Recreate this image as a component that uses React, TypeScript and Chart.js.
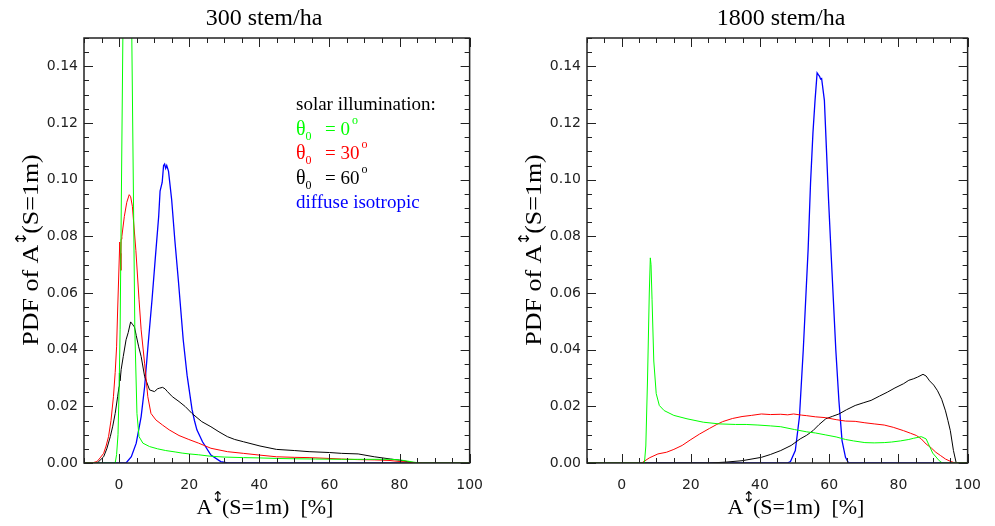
import React, { useEffect, useRef } from 'react';
import { Chart, registerables } from 'chart.js';

Chart.register(...registerables);

// ---------- axes ----------
const X_MIN = -10;
const X_MAX = 100;
const Y_MIN = 0;
const Y_MAX = 0.15;
const xTickValues = [0, 20, 40, 60, 80, 100];
const yTickValues = [0, 0.02, 0.04, 0.06, 0.08, 0.1, 0.12, 0.14];
const X_MINOR = 5;
const Y_MINOR = 0.005;

// ---------- texts ----------
const panelTitles = ['300 stem/ha', '1800 stem/ha'];
const yTitleParts = ['PDF of A', '\u2195', '(S=1m)'];
const xTitleParts = ['A', '\u2195', '(S=1m)  [%]'];
const legendHeading = 'solar illumination:';
const legendTheta = '\u03B8';
const legendSub = '0';
const legendAngles = ['0', '30', '60'];
const legendDiffuse = 'diffuse isotropic';
const seriesColors = ['#00ff00', '#ff0000', '#000000', '#0000ff'];

// ---------- 300 stem/ha ----------
const lowGreenX = [-10, -1.1, -0.7, -0.3, 0, 0.3, 2.3, 4.5, 5.1, 5.7, 6.8, 8.7, 11, 13.3, 16, 18, 20, 22.7, 26, 30, 35.5, 40, 45, 50, 56, 63.5, 70, 77.5, 80, 82.2, 84, 86, 100];
const lowGreenY = [0, 0, 0.003, 0.01, 0.025, 0.047, 0.31, 0.047, 0.0175, 0.0093, 0.007, 0.0058, 0.005, 0.0044, 0.0039, 0.0035, 0.0032, 0.0029, 0.0024, 0.0021, 0.0019, 0.0018, 0.0016, 0.0015, 0.0014, 0.0013, 0.0013, 0.0013, 0.0011, 0.0007, 0.0003, 0, 0];

const lowRedX = [-10, -7.5, -6.3, -5.4, -4.4, -3.7, -3.0, -2.3, -1.6, -1.1, -0.7, -0.4, -0.1, 0.2, 0.35, 0.5, 0.6, 0.8, 1.5, 2.2, 2.9, 3.3, 3.8, 4.8, 5.7, 6.3, 7.3, 8.2, 9.1, 10.5, 12.4, 14.3, 17.1, 19.9, 22.7, 26.2, 30.9, 35.5, 40, 44.9, 50, 54.2, 60, 63.5, 68, 72.8, 77, 80.3, 84, 87, 100];
const lowRedY = [0, 0.0001, 0.0005, 0.0018, 0.0034, 0.006, 0.0093, 0.015, 0.0234, 0.032, 0.041, 0.054, 0.066, 0.078, 0.074, 0.068, 0.079, 0.08, 0.087, 0.092, 0.0947, 0.094, 0.0906, 0.075, 0.0576, 0.047, 0.035, 0.0234, 0.0175, 0.0152, 0.0134, 0.0117, 0.0097, 0.0083, 0.007, 0.0052, 0.004, 0.0034, 0.0028, 0.0022, 0.002, 0.0019, 0.0016, 0.0014, 0.0012, 0.0011, 0.0009, 0.0005, 0.0002, 0, 0];

const lowBlackX = [-10, -6.5, -5.8, -4.4, -3.5, -2.5, -1.8, -1.1, -0.4, 0, 0.1, 0.3, 0.6, 1.2, 2.0, 2.6, 3.3, 3.8, 4.4, 4.9, 5.6, 6.3, 7.3, 8.7, 10.1, 11.0, 11.5, 12.4, 13.1, 13.8, 15.2, 17.1, 18.9, 20.8, 23.6, 26.2, 28.5, 30.9, 33, 35.5, 40.2, 44.9, 50, 54.2, 60, 63.5, 68.2, 72.8, 77.5, 80, 82.2, 84, 100];
const lowBlackY = [0, 0, 0.0005, 0.0022, 0.005, 0.0093, 0.013, 0.0175, 0.0234, 0.027, 0.0317, 0.029, 0.033, 0.0376, 0.0435, 0.046, 0.0498, 0.049, 0.048, 0.045, 0.041, 0.0376, 0.0305, 0.0258, 0.0252, 0.0262, 0.0264, 0.0267, 0.0262, 0.0252, 0.0234, 0.0217, 0.0199, 0.0175, 0.0146, 0.0128, 0.011, 0.0093, 0.0083, 0.0075, 0.006, 0.0048, 0.0044, 0.004, 0.0037, 0.0034, 0.0032, 0.0022, 0.0014, 0.001, 0.0005, 0, 0];

const lowBlueX = [-10, 2.0, 3.5, 4.9, 6.3, 7.3, 8.3, 9.4, 10.3, 11.3, 11.7, 12.3, 12.7, 13.0, 13.3, 13.6, 14.1, 15.0, 15.9, 16.9, 18.3, 19.4, 20.8, 21.5, 22.2, 23.8, 26.2, 29, 31, 100];
const lowBlueY = [0, 0, 0.0022, 0.007, 0.0164, 0.027, 0.042, 0.0576, 0.0717, 0.087, 0.096, 0.099, 0.105, 0.1055, 0.104, 0.105, 0.103, 0.093, 0.0788, 0.0647, 0.0435, 0.031, 0.019, 0.015, 0.0117, 0.0075, 0.0028, 0.0005, 0, 0];

// ---------- 1800 stem/ha ----------
const highGreenX = [-10, 6.6, 7.0, 7.5, 8.0, 8.3, 8.5, 8.8, 9.3, 10, 10.9, 12.3, 15.1, 18.9, 23.6, 28.2, 32.9, 36, 39.4, 43, 46, 50, 53.5, 56, 59, 62, 64.7, 67, 70.3, 73, 75.9, 78, 80.6, 83, 84.3, 86.6, 88, 89.9, 91.8, 92.7, 100];
const highGreenY = [0, 0, 0.006, 0.03, 0.06, 0.0724, 0.07, 0.0576, 0.036, 0.0245, 0.0203, 0.0185, 0.0168, 0.0156, 0.0144, 0.0138, 0.0136, 0.0136, 0.0134, 0.0131, 0.0128, 0.0118, 0.011, 0.0106, 0.0099, 0.0092, 0.0083, 0.0078, 0.0072, 0.0071, 0.0072, 0.0074, 0.0078, 0.0083, 0.0087, 0.0093, 0.0085, 0.0035, 0.0008, 0, 0];

const highRedX = [-10, 5.8, 8, 10.5, 13, 15.1, 17.5, 19.8, 22.5, 25.4, 27.5, 29.2, 32, 34.8, 37.5, 40.4, 43, 46, 48, 49.7, 52, 53.5, 56, 59, 62, 64.7, 67.5, 70.3, 73, 75.9, 78.5, 81.5, 83.5, 85.2, 86.6, 88, 89.5, 90.8, 92.2, 93.6, 95, 96.4, 100];
const highRedY = [0, 0, 0.0018, 0.0032, 0.0038, 0.0048, 0.0062, 0.0081, 0.0102, 0.0122, 0.0136, 0.0146, 0.0157, 0.0164, 0.0168, 0.0173, 0.0171, 0.0172, 0.017, 0.0173, 0.0169, 0.0167, 0.0163, 0.016, 0.0153, 0.0148, 0.0147, 0.0142, 0.0138, 0.0134, 0.0126, 0.0114, 0.0105, 0.0097, 0.0085, 0.0067, 0.0053, 0.0038, 0.0026, 0.0014, 0.0006, 0, 0];

const highBlackX = [-10, 25.4, 30, 34.8, 40.4, 43, 46, 49, 51.6, 53.5, 55.3, 57, 59, 61, 62.8, 65, 67.5, 70, 72.1, 74.5, 76.8, 79, 81.5, 83, 84.3, 85.5, 87.1, 88, 89, 90.2, 91.3, 92.5, 93.6, 94.3, 95, 95.9, 96.7, 100];
const highBlackY = [0, 0, 0.0003, 0.0008, 0.002, 0.003, 0.0044, 0.0062, 0.0085, 0.0098, 0.0114, 0.0135, 0.0156, 0.0165, 0.0173, 0.0188, 0.0203, 0.0213, 0.0221, 0.0236, 0.025, 0.0265, 0.028, 0.0292, 0.0297, 0.0303, 0.0313, 0.0307, 0.029, 0.0275, 0.0255, 0.0225, 0.0184, 0.015, 0.0114, 0.0044, 0, 0];

const highBlueX = [-10, 47.9, 48.8, 50.2, 51.4, 52.5, 53.9, 54.6, 55.3, 55.9, 56.5, 56.9, 57.2, 57.5, 57.8, 58.6, 59.2, 59.8, 60.5, 61.9, 62.8, 63.7, 64.7, 65.6, 100];
const highBlueY = [0, 0, 0.0005, 0.0044, 0.0164, 0.04, 0.0753, 0.0988, 0.1166, 0.128, 0.1377, 0.137, 0.1365, 0.1355, 0.1357, 0.128, 0.1106, 0.093, 0.075, 0.04, 0.022, 0.0079, 0.002, 0, 0];

// ---------- helpers ----------
const SERIF = '"Liberation Serif", "Times New Roman", serif';
const SANS = '"DejaVu Sans", sans-serif';

function toPoints(xs: number[], ys: number[]) {
  return xs.map((x, i) => ({ x, y: ys[i] }));
}

type Part = { text: string; font: string; dy?: number; gap?: number };

function measureParts(ctx: CanvasRenderingContext2D, parts: Part[]) {
  let w = 0;
  for (const p of parts) {
    ctx.font = p.font;
    w += ctx.measureText(p.text).width + (p.gap || 0);
  }
  return w;
}

function drawParts(ctx: CanvasRenderingContext2D, parts: Part[], x: number, y: number) {
  let cx = x;
  ctx.textAlign = 'left';
  ctx.textBaseline = 'alphabetic';
  for (const p of parts) {
    ctx.font = p.font;
    ctx.fillText(p.text, cx, y + (p.dy || 0));
    cx += ctx.measureText(p.text).width + (p.gap || 0);
  }
}

function titleParts(parts: string[], size: number): Part[] {
  return [
    { text: parts[0], font: `${size}px ${SERIF}`, gap: -1 },
    { text: parts[1], font: `15px ${SANS}`, dy: -12, gap: -2 },
    { text: parts[2], font: `${size}px ${SERIF}` },
  ];
}

type PanelCfg = {
  left: number;
  width: number;
  axisLeft: number;
  padRight: number;
  titleX: number;
  xTitleX: number;
  yTitleX: number;
  legend: boolean;
  title: string;
};

const panelCfgs: PanelCfg[] = [
  { left: 0, width: 497, axisLeft: 84, padRight: 20, titleX: 264, xTitleX: 265, yTitleX: 38, legend: true, title: panelTitles[0] },
  { left: 497, width: 498, axisLeft: 90, padRight: 16, titleX: 284, xTitleX: 299, yTitleX: 44, legend: false, title: panelTitles[1] },
];

function isMultiple(v: number, step: number) {
  const r = v / step;
  return Math.abs(r - Math.round(r)) < 1e-6;
}

function framePlugin(cfg: PanelCfg) {
  return {
    id: 'frame',
    afterDraw(chart: any) {
      const { ctx, chartArea: a } = chart;
      const xs = chart.scales.x;
      const ys = chart.scales.y;
      ctx.save();
      // inward ticks
      ctx.strokeStyle = '#222';
      ctx.lineWidth = 1;
      ctx.beginPath();
      for (let v = X_MIN; v <= X_MAX + 1e-9; v += X_MINOR) {
        const px = Math.round(xs.getPixelForValue(v)) + 0.5;
        const len = isMultiple(v, 20) ? 9 : 5;
        ctx.moveTo(px, a.bottom);
        ctx.lineTo(px, a.bottom - len);
        ctx.moveTo(px, a.top);
        ctx.lineTo(px, a.top + len);
      }
      for (let i = 0; Y_MIN + i * Y_MINOR <= Y_MAX + 1e-9; i++) {
        const v = Y_MIN + i * Y_MINOR;
        const py = Math.round(ys.getPixelForValue(v)) + 0.5;
        const len = i % 4 === 0 ? 9 : 5;
        ctx.moveTo(a.left, py);
        ctx.lineTo(a.left + len, py);
        ctx.moveTo(a.right, py);
        ctx.lineTo(a.right - len, py);
      }
      ctx.stroke();
      // frame
      ctx.lineWidth = 1.5;
      ctx.strokeRect(a.left, a.top, a.right - a.left, a.bottom - a.top);

      // panel title
      ctx.fillStyle = '#000';
      ctx.font = `24px ${SERIF}`;
      ctx.textAlign = 'center';
      ctx.textBaseline = 'alphabetic';
      ctx.fillText(cfg.title, cfg.titleX, 25);

      // x title
      const xp = titleParts(xTitleParts, 22);
      const xw = measureParts(ctx, xp);
      drawParts(ctx, xp, cfg.xTitleX - xw / 2, 514);

      // y title (slightly stretched along its direction, as in the reference)
      const yp = titleParts(yTitleParts, 23);
      const yw = measureParts(ctx, yp);
      ctx.save();
      ctx.translate(cfg.yTitleX, 250);
      ctx.rotate(-Math.PI / 2);
      ctx.scale(1.13, 1);
      drawParts(ctx, yp, -yw / 2, 0);
      ctx.restore();

      // legend
      if (cfg.legend) {
        const lx = 296;
        const base = [110, 134.5, 159, 183.5, 208];
        ctx.fillStyle = '#000';
        drawParts(ctx, [{ text: legendHeading, font: `19px ${SERIF}` }], lx, base[0]);
        legendAngles.forEach((ang, i) => {
          ctx.fillStyle = seriesColors[i];
          drawParts(ctx, [
            { text: legendTheta, font: `20px ${SERIF}` },
            { text: legendSub, font: `12px ${SERIF}`, dy: 5 },
          ], lx, base[i + 1]);
          drawParts(ctx, [
            { text: '= ' + ang, font: `19px ${SERIF}`, gap: 2 },
            { text: 'o', font: `12px ${SERIF}`, dy: -11 },
          ], lx + 29, base[i + 1]);
        });
        ctx.fillStyle = seriesColors[3];
        drawParts(ctx, [{ text: legendDiffuse, font: `19px ${SERIF}` }], lx, base[4]);
      }
      ctx.restore();
    },
  };
}

function makeConfig(cfg: PanelCfg, series: { xs: number[]; ys: number[] }[]): any {
  return {
    type: 'line',
    data: {
      datasets: series.map((s, i) => ({
        data: toPoints(s.xs, s.ys),
        borderColor: seriesColors[i],
        borderWidth: i === 3 ? 1.3 : 1,
        pointRadius: 0,
        tension: 0,
        fill: false,
      })),
    },
    options: {
      animation: false,
      responsive: false,
      maintainAspectRatio: false,
      events: [],
      layout: { padding: { left: 0, right: cfg.padRight, top: 38, bottom: 0 } },
      plugins: {
        legend: { display: false },
        tooltip: { enabled: false },
        title: { display: false },
      },
      scales: {
        x: {
          type: 'linear',
          min: X_MIN,
          max: X_MAX,
          grid: { display: false, drawTicks: false },
          border: { display: false },
          ticks: {
            padding: 14,
            color: '#222',
            font: { family: SANS, size: 14 },
            maxRotation: 0,
            callback: (v: number) => String(v),
          },
          afterBuildTicks: (s: any) => {
            s.ticks = xTickValues.map((v) => ({ value: v }));
          },
          afterFit: (s: any) => {
            s.height = 63;
          },
        },
        y: {
          type: 'linear',
          min: Y_MIN,
          max: Y_MAX,
          grid: { display: false, drawTicks: false },
          border: { display: false },
          ticks: {
            padding: 6,
            color: '#222',
            font: { family: SANS, size: 14 },
            callback: (v: number) => Number(v).toFixed(2),
          },
          afterBuildTicks: (s: any) => {
            s.ticks = yTickValues.map((v) => ({ value: v }));
          },
          afterFit: (s: any) => {
            s.width = cfg.axisLeft;
          },
        },
      },
    },
    plugins: [framePlugin(cfg)],
  };
}

function Panel({ cfg, series }: { cfg: PanelCfg; series: { xs: number[]; ys: number[] }[] }) {
  const ref = useRef<HTMLCanvasElement | null>(null);
  useEffect(() => {
    if (!ref.current) return;
    const chart = new Chart(ref.current, makeConfig(cfg, series));
    return () => chart.destroy();
  }, []);
  return (
    <canvas
      ref={ref}
      width={cfg.width}
      height={526}
      style={{ position: 'absolute', left: cfg.left, top: 0, width: cfg.width, height: 526 }}
    />
  );
}

export default function App() {
  const lowSeries = [
    { xs: lowGreenX, ys: lowGreenY },
    { xs: lowRedX, ys: lowRedY },
    { xs: lowBlackX, ys: lowBlackY },
    { xs: lowBlueX, ys: lowBlueY },
  ];
  const highSeries = [
    { xs: highGreenX, ys: highGreenY },
    { xs: highRedX, ys: highRedY },
    { xs: highBlackX, ys: highBlackY },
    { xs: highBlueX, ys: highBlueY },
  ];
  return (
    <div style={{ position: 'absolute', left: 0, top: 0, width: 995, height: 526, background: '#fff' }}>
      <Panel cfg={panelCfgs[0]} series={lowSeries} />
      <Panel cfg={panelCfgs[1]} series={highSeries} />
    </div>
  );
}
